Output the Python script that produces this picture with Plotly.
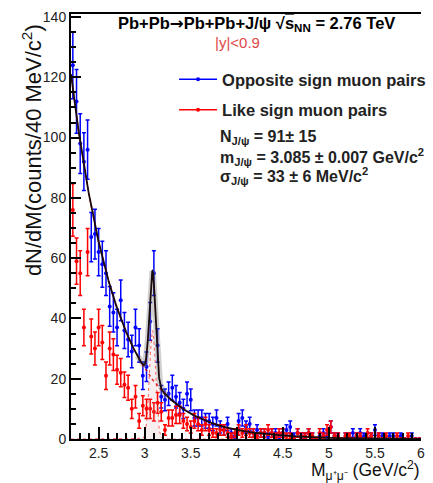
import numpy as np
import plotly.graph_objects as go

# ---------------- data (counts per 40 MeV/c^2 bin) ----------------
mass_lo = 2.2
bin_width = 0.04
n_bins = 95
mass = [round(mass_lo + bin_width * (i + 0.5), 3) for i in range(n_bins)]

opposite_sign = [
    124, 112, 98, 92, 96, 67, 68, 62, 58, 55,
    44, 42, 37, 46, 36, 33, 29, 37, 31, 21,
    24, 39, 55, 31, 14, 13, 15, 17, 14, 12,
    10, 15, 13, 7, 7, 7, 6, 6, 5, 7,
    4, 3, 5, 2, 1, 6, 7, 4, 5, 2,
    3, 2, 2, 1, 2, 2, 1, 2, 3, 4,
    1, 2, 1, 1, 2, 1, 0, 1, 2, 1,
    4, 1, 1, 0, 1, 1, 2, 1, 2, 1,
    0, 1, 3, 1, 1, 0, 1, 1, 0, 1,
    0, 0, 1, 0, 0,
]
like_sign = [
    76, 59, 55, 37, 62, 34, 30, 37, 32, 21,
    30, 28, 23, 22, 18, 17, 10, 14, 6, 11,
    10, 10, 9, 12, 9, 3, 7, 7, 8, 8,
    6, 5, 4, 6, 5, 3, 5, 3, 2, 2,
    3, 3, 2, 1, 2, 3, 2, 3, 2, 2,
    1, 2, 2, 3, 2, 1, 2, 2, 1, 1,
    0, 2, 1, 1, 2, 1, 0, 2, 1, 3,
    4, 1, 1, 0, 1, 1, 0, 1, 1, 0,
    2, 1, 0, 1, 0, 1, 0, 0, 1, 0,
    0, 1, 0, 0, 0,
]
assert len(opposite_sign) == n_bins and len(like_sign) == n_bins

# fit parameters (exponential background + Gaussian J/psi peak)
bkg_norm = 121.0
bkg_slope = 2.05
sig_amp = 36.0
m_jpsi = 3.085
sigma_jpsi = 0.033

# ---------------- figure ----------------
FONT = "Liberation Sans, Arial, Helvetica, sans-serif"
BLUE = "#0000ff"
RED = "#ff0000"

fig = go.Figure()

os_err = [float(np.sqrt(v)) for v in opposite_sign]
ls_err = [float(np.sqrt(v)) for v in like_sign]

fig.add_trace(go.Scatter(
    x=mass, y=opposite_sign, mode="markers",
    marker=dict(color=BLUE, size=4, symbol="circle"),
    error_y=dict(type="data", array=os_err, visible=True, color=BLUE, thickness=1.5, width=2),
    showlegend=False, hoverinfo="skip"))
fig.add_trace(go.Scatter(
    x=mass, y=like_sign, mode="markers",
    marker=dict(color=RED, size=4, symbol="circle"),
    error_y=dict(type="data", array=ls_err, visible=True, color=RED, thickness=1.5, width=2),
    showlegend=False, hoverinfo="skip"))

# fit curves
xf = np.linspace(mass_lo, 6.0, 1901)
bkg = bkg_norm * np.exp(-bkg_slope * (xf - mass_lo))
sig = sig_amp * np.exp(-0.5 * ((xf - m_jpsi) / sigma_jpsi) ** 2)
tot = bkg + sig

fig.add_trace(go.Scatter(x=xf, y=sig, mode="lines",
                         line=dict(color="rgba(255,0,0,0.6)", width=1, dash="dot"),
                         fill="tozeroy", fillcolor="rgba(200,150,150,0.15)",
                         showlegend=False, hoverinfo="skip"))
peak = (xf > m_jpsi - 5 * sigma_jpsi) & (xf < m_jpsi + 5 * sigma_jpsi)
fig.add_trace(go.Scatter(x=xf[peak], y=tot[peak], mode="lines",
                         line=dict(color="rgba(120,120,120,0.35)", width=6),
                         showlegend=False, hoverinfo="skip"))
fig.add_trace(go.Scatter(x=xf, y=bkg, mode="lines",
                         line=dict(color="rgba(220,0,0,0.8)", width=1.5, dash="dot"),
                         showlegend=False, hoverinfo="skip"))
fig.add_trace(go.Scatter(x=xf, y=tot, mode="lines",
                         line=dict(color="#1a0a0a", width=1.8),
                         showlegend=False, hoverinfo="skip"))

# legend entries
fig.add_trace(go.Scatter(x=[None], y=[None], mode="lines+markers",
                         name="<b>Opposite sign muon pairs</b>",
                         line=dict(color=BLUE, width=1.5), marker=dict(color=BLUE, size=4),
                         legendgroup="a"))
fig.add_trace(go.Scatter(x=[None], y=[None], mode="lines+markers",
                         name="<b>Like sign muon pairs</b>",
                         line=dict(color=RED, width=1.5), marker=dict(color=RED, size=4),
                         legendgroup="b"))

L, R, T, B = 71, 2, 14, 44
W, H = 433, 483
pw, ph = W - L - R, H - T - B


def px(x):
    return (x - L) / pw


def py(y):
    return (H - B - y) / ph


annotations = [
    dict(text="<b>Pb+Pb<span style='font-family:DejaVu Sans'>→</span>Pb+Pb+J/ψ "
              "√<span style='text-decoration:overline'>s</span><sub>NN</sub> = 2.76 TeV</b>",
         x=px(117), y=py(24), xanchor="left", yanchor="middle", font=dict(size=16.5, color="black")),
    dict(text="|y|<0.9", x=px(217), y=py(42), xanchor="left", yanchor="middle",
         font=dict(size=15, color="#e04848")),
    dict(text="<b>N<sub>J/ψ</sub> = 91± 15</b>", x=px(222), y=py(137), xanchor="left", yanchor="middle",
         font=dict(size=16, color="#222")),
    dict(text="<b>m<sub>J/ψ</sub> = 3.085 ± 0.007 GeV/c<sup>2</sup></b>", x=px(222), y=py(157),
         xanchor="left", yanchor="middle", font=dict(size=16, color="#222")),
    dict(text="<b>σ<sub>J/ψ</sub> = 33 ± 6 MeV/c<sup>2</sup></b>", x=px(222), y=py(176),
         xanchor="left", yanchor="middle", font=dict(size=16, color="#222")),
    dict(text="dN/dM(counts/40 MeV/c<sup>2</sup>)", textangle=-90, x=px(31), y=py(150),
         xanchor="center", yanchor="middle", font=dict(size=22, color="#111")),
    dict(text="M<sub>μ⁺μ⁻</sub> (GeV/c<sup>2</sup>)", x=px(432), y=py(470),
         xanchor="right", yanchor="middle", font=dict(size=17.5, color="#111")),
]
for a in annotations:
    a.update(xref="paper", yref="paper", showarrow=False)

fig.update_layout(
    width=W, height=H, margin=dict(l=L, r=R, t=T, b=B),
    paper_bgcolor="white", plot_bgcolor="white",
    font=dict(family=FONT, color="black"),
    annotations=annotations,
    showlegend=True,
    legend=dict(x=px(177), y=py(62), xanchor="left", yanchor="top",
                bgcolor="rgba(0,0,0,0)", font=dict(size=16.5, color="#222"),
                tracegroupgap=6, itemwidth=38),
)
fig.update_xaxes(
    range=[mass_lo, 6.0], showline=True, linecolor="black", linewidth=2, mirror=True,
    ticks="inside", ticklen=12, tickwidth=1.5, tickcolor="black",
    tick0=2.5, dtick=0.5, ticklabeloverflow="allow",
    minor=dict(dtick=0.1, tick0=2.2, ticklen=6, ticks="inside", tickcolor="black", tickwidth=1.5),
    showgrid=False, zeroline=False, tickfont=dict(size=14, color="#222"),
)
fig.update_yaxes(
    range=[0, 141], showline=True, linecolor="black", linewidth=2,
    ticks="inside", ticklen=10, tickwidth=1.5, tickcolor="black",
    tick0=0, dtick=20,
    minor=dict(dtick=5, ticklen=5, ticks="inside", tickcolor="black", tickwidth=1.5),
    showgrid=False, zeroline=False, tickfont=dict(size=14, color="#222"),
)

fig.write_html("out.html")
